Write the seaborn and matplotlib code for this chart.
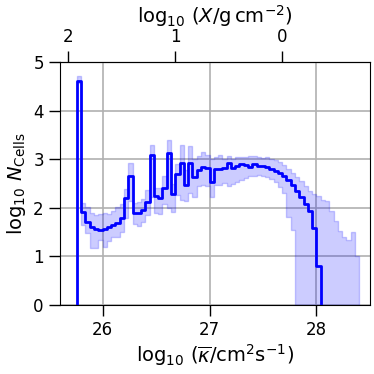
import numpy as np
import pandas as pd
import matplotlib
matplotlib.use("Agg")
import matplotlib.pyplot as plt
import seaborn as sns

# bins in log10 kappa (left edge + width)
bin_start = 25.76
bin_width = 0.04

# median log10 N per bin (nan = empty)
log_n_median = [4.62, 1.92, 1.71, 1.61, 1.57, 1.55, 1.57, 1.60, 1.64, 1.69,
                1.80, 2.20, 2.65, 1.90, 1.90, 1.96, 2.13, 3.09, 2.24, 2.20,
                2.41, 3.13, 2.28, 2.70, 2.93, 2.47, 2.92, 2.64, 2.79, 2.85,
                2.82, 2.54, 2.80, 2.81, 2.83, 2.92, 2.82, 2.87, 2.91, 2.89,
                2.85, 2.91, 2.87, 2.87, 2.85, 2.80, 2.76, 2.72, 2.65, 2.58,
                2.47, 2.34, 2.23, 2.08, 1.93, 1.58, 0.81, np.nan, np.nan, np.nan,
                np.nan, np.nan, np.nan, np.nan, np.nan, np.nan]

# upper / lower envelope
log_n_upper = [4.72, 2.10, 2.03, 1.89, 1.86, 1.88, 1.90, 1.88, 1.94, 2.03,
               2.09, 2.40, 2.92, 2.11, 2.13, 2.18, 2.38, 3.29, 2.42, 2.42,
               2.65, 3.40, 2.50, 2.90, 3.29, 2.78, 3.28, 3.01, 3.07, 3.15,
               3.10, 3.00, 3.06, 3.10, 3.00, 3.08, 3.02, 3.05, 3.06, 3.05,
               3.08, 3.08, 3.05, 3.03, 3.05, 3.02, 2.98, 2.94, 2.88, 2.80,
               2.72, 2.63, 2.55, 2.46, 2.36, 2.28, 2.25, 2.17, 2.15, 1.94,
               1.74, 1.52, 1.40, 1.35, 1.51, 1.00]
log_n_lower = [4.58, 1.65, 1.48, 1.17, 1.17, 1.34, 1.20, 1.31, 1.41, 1.41,
               1.50, 1.80, 2.14, 1.68, 1.62, 1.72, 1.86, 2.22, 1.89, 1.88,
               2.08, 2.00, 1.92, 2.27, 2.16, 2.14, 2.30, 2.23, 2.45, 2.47,
               2.46, 2.22, 2.47, 2.48, 2.52, 2.45, 2.49, 2.54, 2.58, 2.61,
               2.65, 2.66, 2.68, 2.66, 2.64, 2.60, 2.54, 2.43, 2.30, 1.82,
               1.55, 0.0, 0.0, 0.0, 0.0, 0.0, 0.0, 0.0, 0.0, 0.0,
               0.0, 0.0, 0.0, 0.0, 0.0, 0.0]

x_ticks = [26, 27, 28]
y_ticks = [0, 1, 2, 3, 4, 5]
top_ticks = [2, 1, 0]
x_offset = 27.68  # log10 X = x_offset - log10 kappa

n_bins = len(log_n_median)
edges = bin_start + bin_width * np.arange(n_bins + 1)
med = np.array(log_n_median)
n_ok = int(np.sum(~np.isnan(med)))

# step line: start and end at the bottom
line_df = pd.DataFrame({
    "kappa": np.concatenate([[edges[0]], edges[:n_ok], [edges[n_ok]]]),
    "logN": np.concatenate([[-1.0], med[:n_ok], [-1.0]]),
})

sns.set_style("ticks")
plt.rcParams["font.family"] = ["DejaVu Sans"]
plt.rcParams.update({"text.color": "black", "axes.labelcolor": "black",
                     "xtick.color": "black", "ytick.color": "black",
                     "axes.edgecolor": "black"})

fig = plt.figure(figsize=(3.74, 3.74), dpi=100)
ax = fig.add_axes([0.160, 0.1845, 0.829, 0.6485])

ax.fill_between(edges, np.append(log_n_lower, log_n_lower[-1]),
                np.append(log_n_upper, log_n_upper[-1]),
                step="post", color="blue", alpha=0.2, lw=1)
sns.lineplot(data=line_df, x="kappa", y="logN", ax=ax, color="blue", lw=2,
             drawstyle="steps-post", estimator=None, sort=False)

ax.set_xlim(25.6, 28.5)
ax.set_ylim(0, 5)
ax.set_xticks(x_ticks)
ax.set_yticks(y_ticks)
ax.grid(True, color="#b0b0b0", lw=1.2)
ax.set_axisbelow(True)
ax.tick_params(labelsize=12, length=8, width=1)
ax.set_xlabel(r"$\log_{10}\,(\overline{\kappa}/\mathrm{cm^2 s^{-1}})$", fontsize=14, labelpad=2)
ax.set_ylabel(r"$\log_{10}\,N_\mathrm{Cells}$", fontsize=14, labelpad=4)

top = ax.secondary_xaxis("top", functions=(lambda k: x_offset - k, lambda x: x_offset - x))
top.set_xticks(top_ticks)
top.tick_params(labelsize=12, length=8, width=1)
top.set_xlabel(r"$\log_{10}\,(X/\mathrm{g\,cm^{-2}})$", fontsize=14, labelpad=4)

fig.savefig("out.png", dpi=100)
